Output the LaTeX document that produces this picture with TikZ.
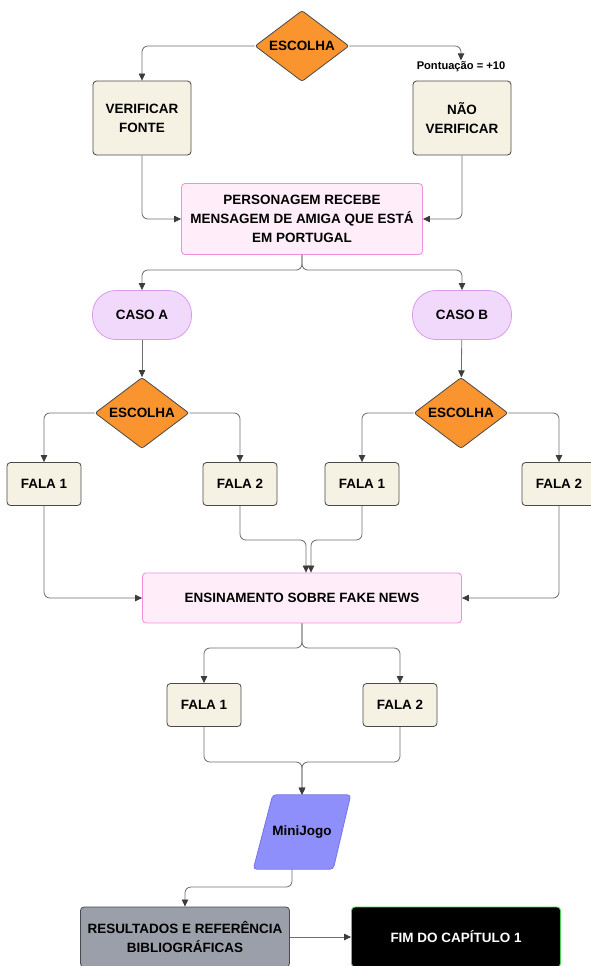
\documentclass[tikz,border=0pt]{standalone}
\usepackage{fontspec}
\setmainfont{Liberation Sans}
\usepackage{tikz}
\usetikzlibrary{arrows.meta, shapes.geometric, calc, backgrounds}

\definecolor{creme}{HTML}{F5F2E3}
\definecolor{laranja}{HTML}{F9942E}
\definecolor{rosaclaro}{HTML}{FFEEFA}
\definecolor{rosa}{HTML}{F28FDC}
\definecolor{lilas}{HTML}{F1D9FB}
\definecolor{lilasborda}{HTML}{DA9AEE}
\definecolor{roxo}{HTML}{8F8FFC}
\definecolor{roxoborda}{HTML}{7474E6}
\definecolor{cinza}{HTML}{9A9FA9}
\definecolor{verde}{HTML}{4CD35E}
\definecolor{linha}{HTML}{6E6E6E}
\definecolor{borda}{HTML}{4A4A4A}
\definecolor{ponta}{HTML}{3C3C3C}

\tikzstyle{caixa} = [rectangle, draw=borda, fill=creme, rounded corners=3pt,
  line width=0.7pt, align=center, font=\fontsize{11.5}{16}\selectfont\bfseries]
\tikzstyle{decisao} = [diamond, draw=borda, fill=laranja, rounded corners=2pt,
  line width=0.7pt, inner sep=0pt, font=\fontsize{11.5}{16}\selectfont\bfseries]
\tikzstyle{caso} = [rectangle, draw=lilasborda, fill=lilas, rounded corners=20pt,
  line width=0.7pt, font=\fontsize{11.5}{16}\selectfont\bfseries]
\tikzstyle{destaque} = [rectangle, draw=rosa, fill=rosaclaro, rounded corners=3pt,
  line width=0.7pt, align=center, font=\fontsize{11.5}{16}\selectfont\bfseries]
\tikzstyle{arrow} = [draw=linha, line width=0.7pt, rounded corners=5pt,
  -{Triangle[length=6pt, width=5.5pt, color=ponta]}]

\begin{document}
\begin{tikzpicture}[x=0.03cm, y=-0.03cm]
  \useasboundingbox (0,0) rectangle (591,966);

  % escolha inicial
  \node[decisao, minimum width=94*0.03cm, minimum height=71*0.03cm] (esc0) at (302,46) {\makebox[0pt]{ESCOLHA}};
  \node[caixa, minimum width=98*0.03cm, minimum height=74*0.03cm] (verif) at (142,118) {VERIFICAR\\FONTE};
  \node[caixa, minimum width=98*0.03cm, minimum height=74*0.03cm] (nao) at (462,118) {NÃO\\VERIFICAR};
  \node[font=\fontsize{9.5}{11}\selectfont\bfseries, inner sep=1pt] (pont) at (461,67) {Pontuação = +10};

  \node[destaque, minimum width=241*0.03cm, minimum height=71*0.03cm] (pers) at (302,219) {PERSONAGEM RECEBE\\MENSAGEM DE AMIGA QUE ESTÁ\\EM PORTUGAL};

  % casos
  \node[caso, minimum width=99*0.03cm, minimum height=49*0.03cm] (casoA) at (142,315) {CASO A};
  \node[caso, minimum width=99*0.03cm, minimum height=49*0.03cm] (casoB) at (462,315) {CASO B};
  \node[decisao, minimum width=94*0.03cm, minimum height=71*0.03cm] (escA) at (142,413) {\makebox[0pt]{ESCOLHA}};
  \node[decisao, minimum width=94*0.03cm, minimum height=71*0.03cm] (escB) at (461,413) {\makebox[0pt]{ESCOLHA}};

  \node[caixa, minimum width=74*0.03cm, minimum height=43*0.03cm] (falaA1) at (44,484) {FALA 1};
  \node[caixa, minimum width=74*0.03cm, minimum height=43*0.03cm] (falaA2) at (240,484) {FALA 2};
  \node[caixa, minimum width=74*0.03cm, minimum height=43*0.03cm] (falaB1) at (362,484) {FALA 1};
  \node[caixa, minimum width=74*0.03cm, minimum height=43*0.03cm] (falaB2) at (559,484) {FALA 2};

  \node[destaque, minimum width=319*0.03cm, minimum height=50*0.03cm] (ens) at (302,598) {ENSINAMENTO SOBRE FAKE NEWS};

  \node[caixa, minimum width=74*0.03cm, minimum height=43*0.03cm] (falaC1) at (204,705) {FALA 1};
  \node[caixa, minimum width=74*0.03cm, minimum height=43*0.03cm] (falaC2) at (400,705) {FALA 2};

  % final
  \node[minimum width=97*0.03cm, minimum height=74*0.03cm, inner sep=0pt,
    font=\fontsize{11.5}{16}\selectfont\bfseries] (mini) at (302,832) {MiniJogo};
  \begin{scope}[on background layer]
    \filldraw[draw=roxoborda, fill=roxo, rounded corners=3pt, line width=0.7pt]
      (mini.south west) -- ($(mini.south west)+(80,0)$) -- (mini.north east)
      -- ($(mini.north east)+(-78,0)$) -- cycle;
  \end{scope}
  \node[caixa, fill=cinza, minimum width=209*0.03cm, minimum height=60*0.03cm] (res) at (185,937) {RESULTADOS E REFERÊNCIA\\BIBLIOGRÁFICAS};
  \node[caixa, fill=black, draw=verde, text=white, minimum width=209*0.03cm, minimum height=60*0.03cm] (fim) at (456,937) {FIM DO CAPÍTULO 1};

  % pontos de junção
  \coordinate (split1) at (302,270);
  \coordinate (mA) at (306,540);
  \coordinate (mB) at (311,540);
  \coordinate (split2) at (302,648);
  \coordinate (mC) at (302,762);
  \coordinate (mD) at (292,887);

  % conexões
  \draw[arrow] (esc0.west) -| (verif.north);
  \draw[arrow] (esc0.east) -| (pont.north);
  \draw[arrow] (verif.south) |- (pers.west);
  \draw[arrow] (nao.south) |- (pers.east);
  \draw[arrow] (pers.south) -- (split1) -| (casoA.north);
  \draw[arrow] (pers.south) -- (split1) -| (casoB.north);
  \draw[arrow] (casoA) -- (escA);
  \draw[arrow] (casoB) -- (escB);
  \draw[arrow] (escA.west) -| (falaA1.north);
  \draw[arrow] (escA.east) -| (falaA2.north);
  \draw[arrow] (escB.west) -| (falaB1.north);
  \draw[arrow] (escB.east) -| (falaB2.north);
  \draw[arrow] (falaA1.south) |- (ens.west);
  \draw[arrow] (falaB2.south) |- (ens.east);
  \draw[arrow] (falaA2.south) |- (mA) -- (mA |- ens.north);
  \draw[arrow] (falaB1.south) |- (mB) -- (mB |- ens.north);
  \draw[arrow] (ens.south) -- (split2) -| (falaC1.north);
  \draw[arrow] (ens.south) -- (split2) -| (falaC2.north);
  \draw[arrow] (falaC1.south) |- (mC) -- (mC |- mini.north);
  \draw[arrow] (falaC2.south) |- (mC) -- (mC |- mini.north);
  \draw[arrow] (mD |- mini.south) -- (mD) -| (res.north);
  \draw[arrow] (res.east) -- (fim.west);
\end{tikzpicture}
\end{document}
